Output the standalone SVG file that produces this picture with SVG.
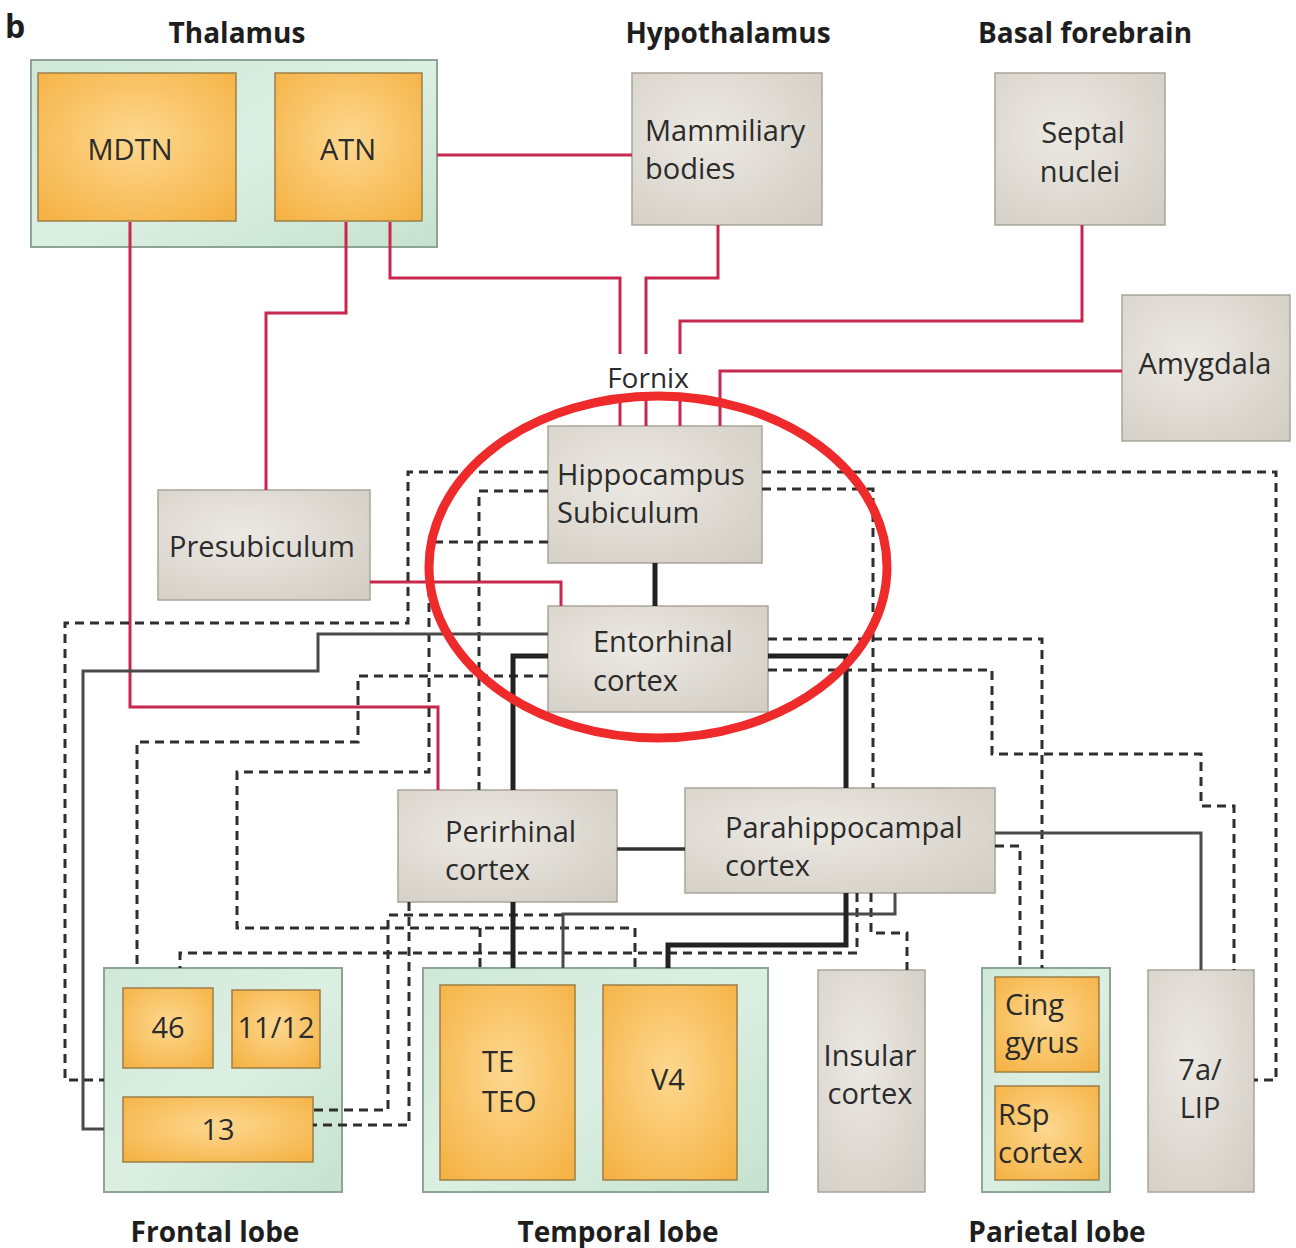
<svg xmlns="http://www.w3.org/2000/svg" width="1296" height="1248" viewBox="0 0 1296 1248">
<defs>
<radialGradient id="gGray" cx="0.4" cy="0.4" r="0.8">
<stop offset="0" stop-color="#ece9e3"/>
<stop offset="1" stop-color="#d2cec5"/>
</radialGradient>
<radialGradient id="gOrange" cx="0.5" cy="0.45" r="0.7">
<stop offset="0" stop-color="#fdd890"/>
<stop offset="1" stop-color="#f5b244"/>
</radialGradient>
<linearGradient id="gGreen" x1="0" y1="0" x2="1" y2="1">
<stop offset="0" stop-color="#cfe8d8"/>
<stop offset="0.5" stop-color="#dcefe3"/>
<stop offset="1" stop-color="#c6e2cf"/>
</linearGradient>
<style>
.gbox{fill:url(#gGray);stroke:#aaa59a;stroke-width:1.5}
.obox{fill:url(#gOrange);stroke:#9d7f45;stroke-width:1.5}
.green{fill:url(#gGreen);stroke:#8ea494;stroke-width:2}
.red{fill:none;stroke:#c8284e;stroke-width:3}
.dash{fill:none;stroke:#2e2e2e;stroke-width:3;stroke-dasharray:9 6}
.thick{fill:none;stroke:#222;stroke-width:5}
.med{fill:none;stroke:#333;stroke-width:3.5}
.thin{fill:none;stroke:#4a4a4a;stroke-width:3}
.lbl{font-family:"Open Sans","DejaVu Sans",sans-serif;font-size:29px;fill:#2b2b2b}
.hdr{font-family:"Open Sans","DejaVu Sans",sans-serif;font-size:28px;font-weight:bold;fill:#1e1e1e}
.mid{text-anchor:middle}
</style>
</defs>
<rect width="1296" height="1248" fill="#ffffff"/>

<g id="headers">
<text class="hdr" x="5" y="38" style="font-size:32px">b</text>
<text class="hdr mid" x="237" y="43">Thalamus</text>
<text class="hdr mid" x="728" y="43">Hypothalamus</text>
<text class="hdr mid" x="1085" y="43">Basal forebrain</text>
<text class="hdr mid" x="215" y="1242">Frontal lobe</text>
<text class="hdr mid" x="618" y="1242">Temporal lobe</text>
<text class="hdr mid" x="1057" y="1242">Parietal lobe</text>
</g>

<g id="thalamus">
<rect class="green" x="31" y="60" width="406" height="187"/>
<g id="mdtn"><rect class="obox" x="38" y="73" width="198" height="148"/><text class="lbl mid" x="130" y="160">MDTN</text></g>
<g id="atn"><rect class="obox" x="275" y="73" width="147" height="148"/><text class="lbl mid" x="348" y="160">ATN</text></g>
</g>
<g id="mammiliary"><rect class="gbox" x="632" y="73" width="190" height="152"/><text class="lbl" x="645" y="141">Mammiliary</text><text class="lbl" x="645" y="179">bodies</text></g>
<g id="septal"><rect class="gbox" x="995" y="73" width="170" height="152"/><text class="lbl mid" x="1083" y="143">Septal</text><text class="lbl mid" x="1080" y="182">nuclei</text></g>
<g id="amygdala"><rect class="gbox" x="1122" y="295" width="168" height="146"/><text class="lbl mid" x="1205" y="374">Amygdala</text></g>
<g id="fornix"><text class="lbl mid" x="648" y="388" style="font-size:28px">Fornix</text></g>
<g id="hippocampus"><rect class="gbox" x="548" y="426" width="214" height="137"/><text class="lbl" x="557" y="485">Hippocampus</text><text class="lbl" x="557" y="523">Subiculum</text></g>
<g id="presubiculum"><rect class="gbox" x="158" y="490" width="212" height="110"/><text class="lbl mid" x="262" y="557">Presubiculum</text></g>
<g id="entorhinal"><rect class="gbox" x="548" y="606" width="220" height="106"/><text class="lbl" x="593" y="652">Entorhinal</text><text class="lbl" x="593" y="691">cortex</text></g>
<g id="perirhinal"><rect class="gbox" x="398" y="790" width="219" height="112"/><text class="lbl" x="445" y="842">Perirhinal</text><text class="lbl" x="445" y="880">cortex</text></g>
<g id="parahippocampal"><rect class="gbox" x="685" y="788" width="310" height="105"/><text class="lbl" x="725" y="838">Parahippocampal</text><text class="lbl" x="725" y="876">cortex</text></g>

<g id="frontal">
<rect class="green" x="104" y="968" width="238" height="224"/>
<g id="a46"><rect class="obox" x="123" y="988" width="90" height="80"/><text class="lbl mid" x="168" y="1038">46</text></g>
<g id="a1112"><rect class="obox" x="232" y="990" width="88" height="78"/><text class="lbl mid" x="276" y="1038">11/12</text></g>
<g id="a13"><rect class="obox" x="123" y="1097" width="190" height="65"/><text class="lbl mid" x="218" y="1140">13</text></g>
</g>
<g id="temporal">
<rect class="green" x="423" y="968" width="345" height="224"/>
<g id="teteo"><rect class="obox" x="440" y="985" width="135" height="195"/><text class="lbl" x="482" y="1072">TE</text><text class="lbl" x="482" y="1112">TEO</text></g>
<g id="v4"><rect class="obox" x="603" y="985" width="134" height="195"/><text class="lbl mid" x="668" y="1090">V4</text></g>
</g>
<g id="insular"><rect class="gbox" x="818" y="970" width="107" height="222"/><text class="lbl mid" x="870" y="1066">Insular</text><text class="lbl mid" x="870" y="1104">cortex</text></g>
<g id="parietal">
<rect class="green" x="982" y="968" width="128" height="224"/>
<g id="cing"><rect class="obox" x="995" y="977" width="104" height="95"/><text class="lbl" x="1005" y="1015">Cing</text><text class="lbl" x="1005" y="1053">gyrus</text></g>
<g id="rsp"><rect class="obox" x="995" y="1086" width="104" height="94"/><text class="lbl" x="998" y="1125">RSp</text><text class="lbl" x="998" y="1163">cortex</text></g>
</g>
<g id="lip"><rect class="gbox" x="1148" y="970" width="106" height="222"/><text class="lbl mid" x="1200" y="1080">7a/</text><text class="lbl mid" x="1200" y="1118">LIP</text></g>

<g id="connectors">
<path class="red" d="M437,155 H632"/>
<path class="red" d="M390,222 V278 H620 V354 M620,400 V426"/>
<path class="red" d="M718,225 V278 H646 V354 M646,400 V426"/>
<path class="red" d="M1082,225 V321 H680 V354 M680,400 V426"/>
<path class="red" d="M1122,371 H720 V426"/>
<path class="red" d="M346,222 V313 H266 V490"/>
<path class="red" d="M130,222 V707 H438 V790"/>
<path class="red" d="M370,582 H561 V606"/>

<path class="dash" d="M548,472 H408 V623 H65 V1080 H104"/>
<path class="dash" d="M548,491 H479 V790"/>
<path class="dash" d="M548,542 H429 V772 H237 V928 H635 V968 M480,928 V968"/>
<path class="dash" d="M548,676 H358 V742 H137 V968"/>
<path class="dash" d="M409,902 V1125 H313"/>
<path class="dash" d="M563,915 H388 V1110 H313"/>
<path class="dash" d="M857,893 V953 H180 V968"/>
<path class="dash" d="M871,893 V933 H907 V970"/>
<path class="dash" d="M762,472 H1276 V1080 H1254"/>
<path class="dash" d="M762,489 H873 V788"/>
<path class="dash" d="M768,639 H1042 V968"/>
<path class="dash" d="M768,670 H992 V754 H1201 V806 H1234 V970"/>
<path class="dash" d="M995,846 H1020 V968"/>

<path class="thin" d="M895,893 V914 H563 V968"/>
<path class="thin" d="M995,833 H1201 V970"/>
<path class="thin" d="M548,634 H318 V671 H83 V1129 H104"/>

<path class="thick" d="M655,563 V606"/>
<path class="thick" d="M548,656 H513 V790"/>
<path class="thick" d="M768,656 H846 V788"/>
<path class="thick" d="M513,902 V968"/>
<path class="thick" d="M846,893 V945 H668 V968"/>
<path class="med" d="M617,849 H685"/>
</g>

<ellipse id="highlight" cx="658" cy="567" rx="229" ry="171" fill="none" stroke="#ef2a2a" stroke-width="9"/>
</svg>
